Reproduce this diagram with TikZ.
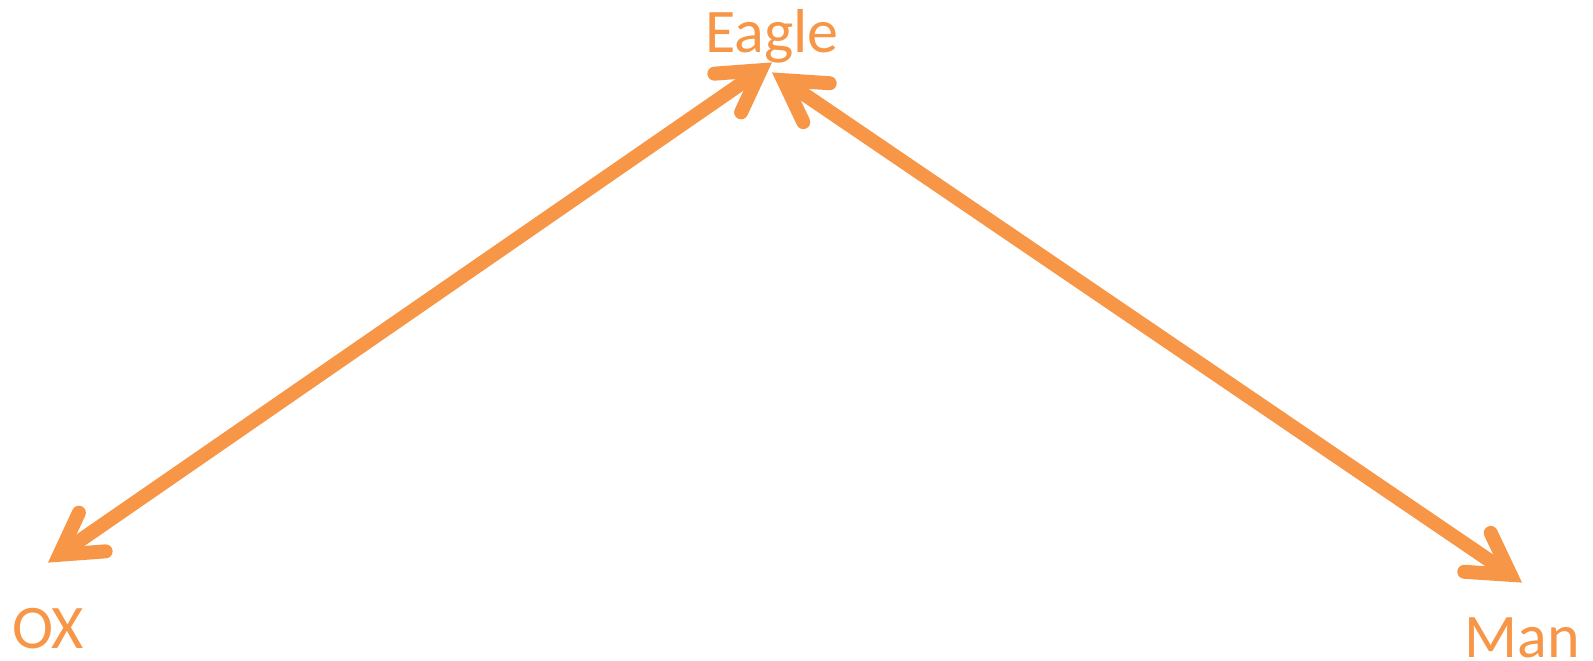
\documentclass[tikz,border=0pt]{standalone}
\usepackage{fontspec}
\setmainfont{Carlito}
\usetikzlibrary{arrows.meta}
\definecolor{beast}{HTML}{F79646}
\begin{document}
\begin{tikzpicture}
[x=0.5pt, y=-0.5pt, font=\fontsize{31}{37}\selectfont,
       every node/.style={text=beast, inner sep=0pt, anchor=base,
                          text height=20pt, text depth=0pt},
       link/.style={draw=beast, line width=7pt,
                    >={Straight Barb[length=20pt, width=23.5pt, line cap=round, line join=miter]}, <->}]
  \useasboundingbox (0,0) rectangle (1593,660);
  \node[text depth=5pt] (eagle) at (772,52) {Eagle}; % top
  \node (ox) at (48,648) {OX};
  \node (man) at (1522,657) {Man};
  \path[link] (eagle.south) -- ([yshift=22.5pt]ox.north);
  \path[link] ([yshift=-5pt]eagle.south) -- ([yshift=17pt]man.north);
\end{tikzpicture}
\end{document}
